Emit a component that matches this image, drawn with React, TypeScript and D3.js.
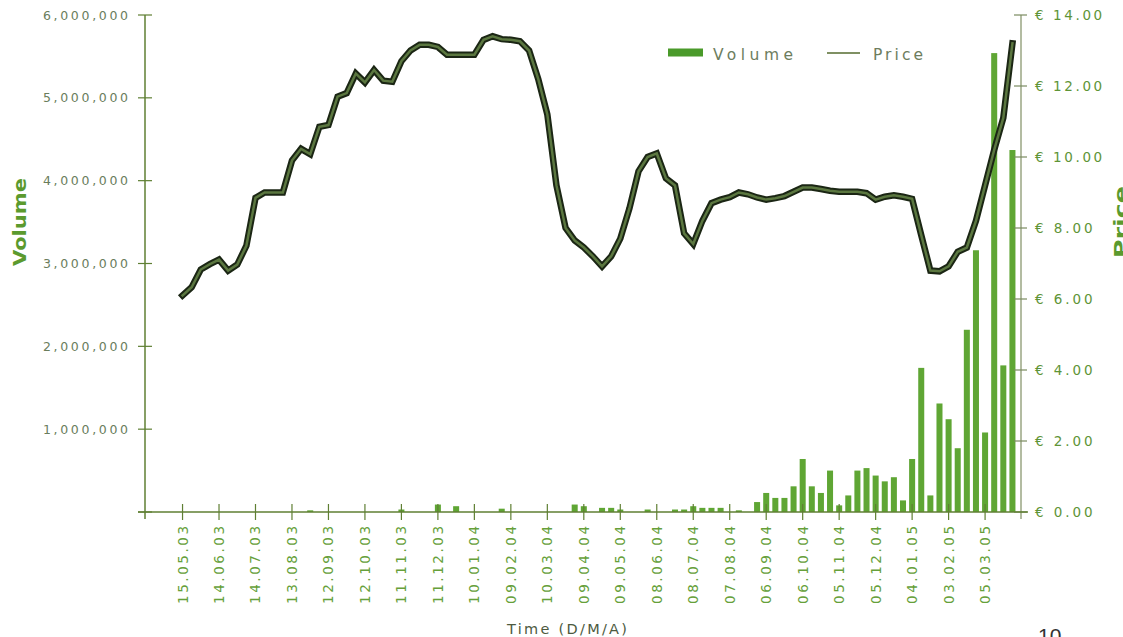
import React from 'react';
import * as d3 from 'd3';

// ---- data ----
const tickLabels = [
  '15.05.03', '14.06.03', '14.07.03', '13.08.03', '12.09.03', '12.10.03',
  '11.11.03', '11.12.03', '10.01.04', '09.02.04', '10.03.04', '09.04.04',
  '09.05.04', '08.06.04', '08.07.04', '07.08.04', '06.09.04', '06.10.04',
  '05.11.04', '05.12.04', '04.01.05', '03.02.05', '05.03.05',
];
// index of the first labelled period and label interval (in periods)
const firstLabelIndex = 4;
const labelEvery = 4;

// volume per period (shares)
const volume = [
  0, 0, 0, 0, 0, 0, 0, 0, 0, 0,
  0, 0, 0, 0, 0, 0, 0, 0, 20000, 0,
  0, 0, 0, 0, 0, 0, 0, 0, 30000, 0,
  0, 0, 90000, 0, 70000, 0, 0, 0, 0, 40000,
  0, 0, 0, 0, 0, 0, 0, 90000, 70000, 0,
  50000, 50000, 30000, 0, 0, 30000, 0, 0, 30000, 30000,
  70000, 50000, 50000, 50000, 0, 20000, 0, 120000, 230000, 170000,
  170000, 310000, 640000, 310000, 230000, 500000, 80000, 200000, 500000, 530000,
  440000, 370000, 420000, 140000, 640000, 1740000, 200000, 1310000, 1120000, 770000,
  2200000, 3160000, 960000, 5540000, 1770000, 4370000,
];

// price per period (EUR); null = no quote
const price: (number | null)[] = [
  null, null, null, null, 6.1, 6.33, 6.83, 6.98, 7.11, 6.8,
  6.97, 7.5, 8.85, 9.0, 9.0, 9.0, 9.9, 10.23, 10.08, 10.85,
  10.9, 11.7, 11.8, 12.35, 12.1, 12.45, 12.15, 12.12, 12.7, 13.0,
  13.16, 13.16, 13.1, 12.88, 12.88, 12.88, 12.88, 13.3, 13.4, 13.32,
  13.3, 13.26, 13.0, 12.2, 11.2, 9.2, 8.0, 7.65, 7.45, 7.2,
  6.92, 7.2, 7.7, 8.55, 9.6, 10.0, 10.1, 9.4, 9.2, 7.85,
  7.55, 8.2, 8.7, 8.8, 8.87, 9.0, 8.95, 8.86, 8.8, 8.84,
  8.9, 9.02, 9.14, 9.14, 9.1, 9.05, 9.02, 9.02, 9.02, 8.98,
  8.8, 8.88, 8.92, 8.88, 8.82, 7.8, 6.8, 6.78, 6.92, 7.33,
  7.45, 8.2, 9.2, 10.2, 11.1, 13.2,
];

const volumeTicks = [1000000, 2000000, 3000000, 4000000, 5000000, 6000000];
const priceTicks = [0, 2, 4, 6, 8, 10, 12, 14];

// ---- layout ----
const W = 1123;
const H = 637;
const leftAxisX = 145;
const rightAxisX = 1021;
const baseY = 512;
const topY = 15;

const FONT = '"DejaVu Sans", Verdana, sans-serif';

export default function App() {
  const idx = d3.range(volume.length);
  const x = d3
    .scaleBand<number>()
    .domain(idx)
    .range([141.5, 1017])
    .paddingInner(0.34)
    .paddingOuter(0.17);
  const cx = (i: number) => (x(i) as number) + x.bandwidth() / 2;

  const yVol = d3.scaleLinear().domain([0, 6000000]).range([baseY, topY]);
  const yPrice = d3.scaleLinear().domain([0, 14]).range([baseY, topY]);

  const line = d3
    .line<number | null>()
    .defined((d) => d != null)
    .x((_, i) => cx(i))
    .y((d) => yPrice(d as number));
  const pathD = line(price) || '';

  const fmtVol = d3.format(',');
  const fmtPrice = (v: number) => '\u20AC ' + d3.format('.2f')(v);

  return (
    <svg
      width={W}
      height={H}
      style={{ position: 'absolute', left: 0, top: 0, background: '#ffffff' }}
      fontFamily={FONT}
    >
      <rect x={0} y={0} width={W} height={H} fill="#ffffff" />

      {/* bars */}
      {volume.map((v, i) =>
        v > 0 ? (
          <rect
            key={'b' + i}
            x={x(i)}
            y={yVol(v)}
            width={x.bandwidth()}
            height={baseY - yVol(v)}
            fill="#5fa634"
          />
        ) : null
      )}

      {/* left axis */}
      <line x1={leftAxisX} x2={leftAxisX} y1={topY} y2={baseY + 7} stroke="#5f7f33" strokeWidth={1.5} />
      {[0, ...volumeTicks].map((t) => (
        <line key={'lt' + t} x1={leftAxisX - 7} x2={leftAxisX + 7} y1={yVol(t)} y2={yVol(t)} stroke="#5f7f33" strokeWidth={1.2} />
      ))}
      {volumeTicks.map((t) => {
        const s = fmtVol(t);
        return (
          <text
            key={'ll' + t}
            x={128}
            y={yVol(t) + 4.5}
            textAnchor="end"
            fontSize={12.5}
            fill="#6a7d5c"
            textLength={s.length * 9.45}
            lengthAdjust="spacing"
          >
            {s}
          </text>
        );
      })}

      {/* right axis */}
      <line x1={rightAxisX} x2={rightAxisX} y1={topY} y2={baseY + 7} stroke="#8a9870" strokeWidth={1.3} />
      {priceTicks.map((t) => (
        <line key={'rt' + t} x1={rightAxisX - 7} x2={rightAxisX + 6} y1={yPrice(t)} y2={yPrice(t)} stroke="#7a8a60" strokeWidth={1.2} />
      ))}
      {priceTicks.map((t) => {
        const s = fmtPrice(t);
        return (
          <text
            key={'rl' + t}
            x={1035}
            y={yPrice(t) + 5}
            fontSize={13.5}
            fill="#5e9437"
            textLength={s.length * 9.6}
            lengthAdjust="spacing"
          >
            {s}
          </text>
        );
      })}

      {/* x axis */}
      <line x1={138} x2={1028} y1={baseY} y2={baseY} stroke="#5f7f33" strokeWidth={1.5} />
      {tickLabels.map((lab, k) => {
        const i = firstLabelIndex + k * labelEvery;
        const tx = cx(i);
        return (
          <g key={'xt' + k}>
            <line x1={tx} x2={tx} y1={baseY - 8} y2={baseY + 8} stroke="#5f7f33" strokeWidth={1.2} />
            <text
              transform={`translate(${tx + 5},526) rotate(-90)`}
              textAnchor="end"
              fontSize={13.5}
              fill="#66a03a"
              textLength={lab.length * 9.75}
              lengthAdjust="spacing"
            >
              {lab}
            </text>
          </g>
        );
      })}

      {/* price line: dark outline with olive core */}
      <path d={pathD} fill="none" stroke="#1b2614" strokeWidth={6.5} strokeLinejoin="miter" strokeLinecap="square" />
      <path d={pathD} fill="none" stroke="#5b7740" strokeWidth={2.5} strokeLinejoin="miter" strokeLinecap="square" />

      {/* axis titles */}
      <text
        transform="translate(26,222) rotate(-90)"
        textAnchor="middle"
        fontSize={18}
        fontWeight="bold"
        fill="#5b9a2e"
        textLength={88}
        lengthAdjust="spacingAndGlyphs"
      >
        Volume
      </text>
      <text
        transform="translate(1127,222) rotate(-90)"
        textAnchor="middle"
        fontSize={18}
        fontWeight="bold"
        fill="#5b9a2e"
        textLength={72}
        lengthAdjust="spacingAndGlyphs"
      >
        Price
      </text>
      <text x={567} y={634} textAnchor="middle" fontSize={14.5} fill="#4d5a3f" textLength={120} lengthAdjust="spacing">
        Time (D/M/A)
      </text>

      {/* legend */}
      <rect x={668} y={48.5} width={35} height={8} fill="#4a9a2a" />
      <text x={713} y={60} fontSize={15.5} fill="#6d7d5d" textLength={80} lengthAdjust="spacing">
        Volume
      </text>
      <line x1={827} x2={860} y1={53} y2={53} stroke="#556b2f" strokeWidth={1.5} />
      <text x={873} y={60} fontSize={15.5} fill="#6d7d5d" textLength={50} lengthAdjust="spacing">
        Price
      </text>

      {/* page number */}
      <text x={1038} y={643} fontSize={21} fill="#333333" fontFamily='"Liberation Sans", Arial, sans-serif'>
        10
      </text>
    </svg>
  );
}
